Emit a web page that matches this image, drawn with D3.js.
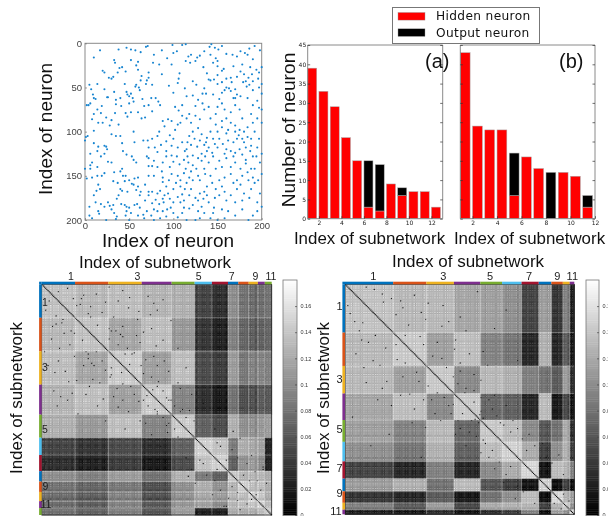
<!DOCTYPE html>
<html><head><meta charset="utf-8">
<script src="https://d3js.org/d3.v7.min.js"></script>
<style>html,body{margin:0;padding:0;background:#fff;overflow:hidden}svg{display:block}</style>
</head><body><svg id="c" width="608" height="516"></svg>
<script>
// ---------- data ----------
const connections=[[47,5],[52,7],[57,8],[63,10],[69,4],[71,3],[38,7],[17,8],[10,16],[78,13],[87,8],[99,2],[104,9],[110,2],[114,1],[120,13],[130,14],[135,9],[141,4],[143,1],[147,5],[151,7],[155,3],[160,12],[167,13],[172,15],[176,9],[181,11],[186,6],[184,13],[192,3],[198,8],[93,17],[77,22],[84,24],[100,11],[114,20],[119,22],[125,20],[127,16],[117,15],[142,13],[148,17],[150,26],[157,29],[134,27],[138,34],[146,41],[33,19],[34,22],[20,31],[22,33],[39,28],[42,27],[37,33],[46,32],[52,19],[58,25],[60,21],[60,30],[64,37],[72,39],[72,33],[70,42],[87,35],[98,24],[107,34],[106,40],[105,45],[122,43],[126,47],[135,51],[140,41],[142,42],[150,46],[155,44],[155,31],[165,39],[166,44],[172,38],[176,32],[180,35],[182,43],[185,39],[187,27],[189,35],[194,30],[197,33],[200,27],[200,46],[197,50],[190,53],[186,47],[183,49],[179,44],[176,60],[170,52],[163,51],[160,50],[158,53],[155,56],[165,54],[170,62],[152,63],[145,58],[137,57],[133,57],[128,64],[122,59],[115,60],[113,51],[100,56],[95,48],[76,47],[69,46],[63,42],[58,47],[61,50],[57,49],[62,53],[47,55],[48,58],[50,60],[52,57],[54,62],[30,40],[27,39],[32,38],[22,52],[14,46],[5,47],[7,52],[9,58],[10,62],[12,63],[2,70],[4,70],[6,68],[25,61],[26,61],[33,55],[35,64],[40,62],[35,69],[41,71],[50,68],[55,66],[65,63],[67,71],[75,62],[80,62],[83,66],[85,70],[76,77],[68,84],[64,85],[60,78],[52,78],[48,83],[46,79],[34,79],[30,87],[24,84],[19,71],[14,75],[10,80],[18,79],[8,86],[15,90],[20,90],[10,99],[3,105],[1,106],[0,110],[10,113],[15,117],[14,122],[22,116],[24,117],[25,120],[22,125],[30,103],[35,105],[40,105],[55,100],[42,113],[43,122],[47,126],[53,128],[55,132],[58,135],[30,135],[26,134],[14,140],[8,135],[6,138],[6,142],[0,142],[2,153],[8,152],[14,150],[19,150],[22,147],[33,146],[32,156],[37,158],[40,145],[42,142],[43,150],[46,150],[45,156],[50,155],[56,153],[60,152],[53,159],[55,160],[60,162],[58,166],[63,168],[62,172],[48,168],[42,167],[40,165],[38,172],[36,176],[41,182],[45,183],[47,185],[50,186],[56,183],[59,182],[68,178],[72,172],[72,168],[76,168],[82,170],[80,177],[76,181],[78,188],[82,190],[70,190],[66,194],[60,195],[52,192],[47,190],[46,195],[50,200],[36,196],[33,192],[30,188],[32,183],[22,185],[18,182],[15,190],[16,193],[12,180],[10,172],[5,185],[5,195],[8,198],[13,167],[15,160],[17,165],[26,180],[28,184],[24,200],[35,199],[67,198],[75,195],[78,200],[85,198],[88,190],[93,188],[97,186],[100,180],[108,180],[112,178],[105,174],[110,171],[113,165],[108,162],[100,165],[94,170],[88,176],[89,180],[90,172],[85,167],[92,162],[88,157],[88,152],[95,155],[98,148],[105,150],[112,147],[118,152],[122,155],[128,150],[126,142],[122,138],[117,135],[112,132],[107,137],[100,134],[98,127],[92,128],[88,135],[87,145],[82,140],[76,139],[72,139],[70,128],[72,130],[78,133],[72,118],[76,108],[71,110],[82,105],[79,118],[82,123],[86,115],[92,111],[100,108],[96,104],[102,98],[105,92],[108,90],[110,82],[102,72],[106,76],[110,70],[115,85],[120,90],[118,80],[125,82],[130,86],[135,75],[140,72],[133,68],[125,71],[128,96],[122,100],[118,105],[132,103],[138,107],[142,100],[148,92],[155,88],[160,85],[165,90],[170,93],[175,98],[170,100],[160,102],[152,108],[147,114],[140,118],[135,115],[130,110],[127,117],[120,115],[115,120],[110,112],[105,118],[98,116],[92,122],[116,128],[122,127],[132,125],[138,122],[132,133],[140,135],[145,128],[152,133],[160,130],[158,125],[165,122],[168,112],[172,108],[178,108],[180,112],[175,120],[182,118],[187,122],[190,128],[182,132],[178,126],[170,135],[165,140],[155,140],[148,142],[142,150],[136,148],[130,155],[138,162],[144,158],[152,155],[158,152],[165,148],[172,155],[178,150],[185,155],[190,152],[196,155],[200,148],[198,135],[200,125],[195,118],[197,108],[192,100],[188,108],[184,95],[178,85],[175,75],[170,70],[165,78],[158,75],[155,68],[150,72],[148,80],[142,85],[155,95],[162,98],[168,62],[184,62],[190,70],[195,65],[197,73],[200,75],[200,90],[195,85],[188,80],[190,90],[180,100],[145,108],[150,100],[125,175],[130,170],[135,168],[128,178],[122,183],[118,187],[110,192],[105,197],[115,200],[125,200],[130,198],[132,185],[140,180],[147,175],[152,172],[158,168],[165,172],[172,165],[180,170],[188,165],[192,158],[198,170],[195,180],[200,185],[195,190],[190,195],[185,200],[178,188],[170,195],[162,190],[155,188],[158,198],[150,200],[145,192],[142,198],[135,192],[170,180],[178,178],[186,175],[160,178],[148,165],[120,165],[115,158],[103,158],[96,140],[135,142],[188,142],[176,142],[182,136],[45,46],[72,70],[28,93],[38,92],[66,110],[56,112],[6,125],[18,128],[190,43],[196,40],[200,57],[172,58],[150,20],[145,22],[90,94],[88,88],[94,86],[98,88],[84,100],[113,122],[96,176],[116,112],[124,108],[137,112],[144,124],[150,118],[156,114],[162,110],[174,104],[184,106],[188,116],[194,128],[170,124],[168,128],[160,120],[128,130],[136,128],[120,145],[114,142],[104,128],[108,155],[134,176],[118,172],[112,186],[100,192],[92,196],[128,190],[138,172],[146,186],[155,162],[168,158],[176,160],[184,146],[192,142],[72,150],[78,150],[68,160],[84,182],[62,186],[160,40],[178,24],[168,26],[190,18],[150,36]];
const hiddenA=[39,33,29,21,15,3,2,9,6,7,7,3];
const outputA=[0,0,0,0,0,12,12,0,2,0,0,0];
const hiddenB=[43,24,23,23,6,16,13,0,12,11,3];
const outputB=[0,0,0,0,11,0,0,12,0,0,3];
const countTicks=[0,5,10,15,20,25,30,35,40,45];
const indexTicks=[2,4,6,8,10,12];
const scatterTicks=[0,50,100,150,200];
const barColors=["#ff0000","#000000"];
const legendLabels=["Hidden neuron","Output neuron"];
const stripColors=["#0072BD","#D95319","#EDB120","#7E2F8E","#77AC30","#4DBEEE","#A2142F"];
const sizesA=[29,29,29,26,20,15,14,9,9,8,6,6];
const sizesB=[42,29,24,23,19,17,15,11,10,6,4];
const blocksA=[
[.135,.128,.132,.125,.122,.045,.030,.098,.078,.072,.072,.078],
[.128,.135,.115,.132,.105,.035,.020,.088,.068,.062,.062,.068],
[.132,.115,.140,.110,.132,.050,.040,.108,.082,.088,.088,.088],
[.125,.132,.110,.140,.090,.030,.015,.078,.052,.052,.058,.058],
[.122,.105,.132,.090,.140,.065,.050,.122,.098,.098,.102,.108],
[.045,.035,.050,.030,.065,.145,.135,.085,.120,.115,.110,.020],
[.030,.020,.040,.015,.050,.135,.145,.065,.100,.105,.095,.020],
[.098,.088,.108,.078,.122,.085,.065,.140,.125,.125,.125,.120],
[.078,.068,.082,.052,.098,.120,.100,.125,.145,.130,.130,.120],
[.072,.062,.088,.052,.098,.115,.105,.125,.130,.145,.135,.120],
[.072,.062,.088,.058,.102,.110,.095,.125,.130,.135,.145,.130],
[.078,.068,.088,.058,.108,.020,.020,.120,.120,.120,.130,.145]];
const blocksB=[
[.135,.128,.128,.115,.110,.098,.045,.108,.035,.088,.020],
[.128,.140,.110,.132,.090,.080,.025,.122,.025,.062,.015],
[.128,.110,.140,.095,.128,.122,.088,.078,.062,.108,.030],
[.115,.132,.095,.140,.070,.065,.025,.130,.015,.048,.012],
[.110,.090,.128,.070,.140,.130,.095,.058,.078,.118,.030],
[.098,.080,.122,.065,.130,.145,.118,.042,.098,.122,.040],
[.045,.025,.088,.025,.095,.118,.150,.012,.130,.125,.090],
[.108,.122,.078,.130,.058,.042,.012,.145,.008,.042,.008],
[.035,.025,.062,.015,.078,.098,.130,.008,.150,.125,.110],
[.088,.062,.108,.048,.118,.122,.125,.042,.125,.145,.100],
[.020,.015,.030,.012,.030,.040,.090,.008,.110,.100,.145]];
const shadeA="5738462951736482519473826518394726518394572618364957261839475261849372615839472618539472614839572618493726518394726158394726185937264815937264815392746158392647159382647159384726158394721683729405618273";
const shadeB="3857291648375261948375629184736529184637259184736259183476259183746259187364529183746519283746591823746591827364519283746519273846512938475619283746591283746519283746519283475619283746519283746501928374";
const specksA=[[3,22],[12,34],[18,30],[8,47],[25,40],[15,55],[28,62],[5,70],[20,75],[10,92],[22,100],[35,48],[40,60],[45,70],[50,85],[38,95],[48,105],[60,72],[65,90],[70,100],[75,110],[66,52],[80,95],[88,100],[92,105],[97,62],[100,110],[105,115],[110,120],[115,125],[120,90],[95,130],[103,140],[125,150],[130,160],[140,155],[150,170],[155,178],[162,185],[170,180],[178,190],[13,105],[31,112],[55,118],[72,125],[85,118],[33,17],[42,28],[58,38],[68,43],[78,60],[83,30],[6,14],[9,36],[14,66],[19,42],[23,84],[27,12],[2,58],[11,76],[16,97],[24,52],[36,70],[41,88],[47,58],[53,99],[59,80],[64,40],[69,76],[74,55],[77,88],[82,44],[86,70],[91,96],[94,26],[98,108],[101,84],[106,66],[109,128],[112,100],[118,132],[122,108],[127,166],[133,172],[137,152],[143,165],[148,182],[152,160],[158,192],[165,175],[172,195],[182,186],[187,170],[192,160]];
const specksB=[[4,25],[12,40],[20,50],[9,60],[30,70],[18,85],[28,100],[6,115],[35,55],[45,65],[50,80],[56,95],[60,108],[72,88],[75,100],[78,112],[83,118],[90,105],[92,112],[96,130],[100,125],[105,140],[110,118],[113,117],[116,120],[120,135],[125,150],[130,160],[140,165],[150,175],[155,180],[165,190],[178,192],[188,195],[38,130],[22,140],[66,150],[15,33],[44,52],[62,76],[2,18],[8,32],[14,48],[24,66],[32,90],[16,72],[26,44],[36,84],[40,105],[48,96],[52,68],[58,120],[64,84],[68,100],[70,124],[80,94],[86,98],[94,104],[98,118],[102,112],[108,128],[114,132],[118,146],[122,138],[128,144],[134,154],[138,172],[144,158],[148,186],[160,170],[170,186],[182,190]];
const colorbarTicks=[0,.02,.04,.06,.08,.1,.12,.14,.16];
const subnetTicks=[1,3,5,7,9,11];

// ---------- drawing ----------
const svg=d3.select("#c");
const SANS="'Liberation Sans',Arial,sans-serif", DV="'DejaVu Sans',sans-serif";
const root=svg.append("g").style("filter","blur(0.35px)");
function label(x,y,t,size,o={}){
  return root.append("text").attr("x",x).attr("y",y).text(t)
   .attr("font-family",o.font||SANS).attr("font-size",size).attr("fill",o.fill||"#111")
   .attr("text-anchor",o.anchor||"start")
   .attr("transform",o.rot?`rotate(${o.rot} ${x} ${y})`:null);
}
function styleAxis(g,col,size,font,tc){
  g.select(".domain").remove();
  g.selectAll("line").attr("stroke",col).attr("stroke-width",.7);
  g.selectAll("text").attr("font-size",size).attr("font-family",font).attr("fill",tc);
  g.attr("font-family",null).attr("font-size",null);
}
// scatter
{
 const x=d3.scaleLinear().domain([0,200]).range([85,261.7]);
 const y=d3.scaleLinear().domain([0,200]).range([43.3,220]);
 root.append("rect").attr("x",85).attr("y",43.3).attr("width",176.7).attr("height",176.7).attr("fill","#fff").attr("stroke","#8a8a8a").attr("stroke-width",1);
 root.append("g").selectAll("circle").data(connections).join("circle")
  .attr("cx",d=>x(d[0])).attr("cy",d=>y(d[1])).attr("r",1.05).attr("fill","#1684d0");
 const ax=root.append("g").attr("transform","translate(0,220)").call(d3.axisBottom(x).tickValues(scatterTicks).tickSize(-2).tickPadding(2));
 styleAxis(ax,"#777",9.5,SANS,"#444");
 const ay=root.append("g").attr("transform","translate(85,0)").call(d3.axisLeft(y).tickValues(scatterTicks).tickSize(-2).tickPadding(3));
 styleAxis(ay,"#777",9.5,SANS,"#444");
 label(168,247,"Index of neuron",19,{anchor:"middle"});
 label(52,129,"Index of neuron",19,{anchor:"middle",rot:-90});
}
// bars
function bars(hidden,output,left,right,dom,showY){
 const x=d3.scaleLinear().domain(dom).range([left,right]);
 const y=d3.scaleLinear().domain([0,45]).range([218.7,45]);
 const idx=d3.range(hidden.length);
 const w=x(1.8)-x(1);
 const grp=root.append("g");
 grp.selectAll(".h").data(idx).join("rect").attr("x",i=>x(i+1)).attr("width",w)
  .attr("y",i=>y(hidden[i])).attr("height",i=>y(0)-y(hidden[i])).attr("fill",barColors[0]).attr("stroke","#aaa").attr("stroke-width",.5);
 grp.selectAll(".o").data(idx.filter(i=>output[i]>0)).join("rect").attr("x",i=>x(i+1)).attr("width",w)
  .attr("y",i=>y(hidden[i]+output[i])).attr("height",i=>y(0)-y(output[i])).attr("fill",barColors[1]).attr("stroke","#aaa").attr("stroke-width",.5);
 const s=root.append("g").attr("fill","none").attr("stroke","#8a8a8a").attr("stroke-width",1);
 s.append("line").attr("x1",left).attr("x2",left).attr("y1",45).attr("y2",218.7);
 s.append("line").attr("x1",right).attr("x2",right).attr("y1",45).attr("y2",218.7);
 s.append("line").attr("x1",left).attr("x2",right).attr("y1",45).attr("y2",45);
 s.append("line").attr("x1",left).attr("x2",right).attr("y1",218.7).attr("y2",218.7);
 const ax=root.append("g").attr("transform","translate(0,218.7)").call(d3.axisBottom(x).tickValues(indexTicks).tickSize(-2.5).tickPadding(2));
 styleAxis(ax,"#333",6,DV,"#222");
 const ay=root.append("g").attr("transform",`translate(${left},0)`).call(d3.axisLeft(y).tickValues(countTicks).tickSize(-2.5).tickPadding(showY?1.5:2).tickFormat(showY?null:""));
 styleAxis(ay,"#333",6,DV,"#222");
 const ay2=root.append("g").attr("transform",`translate(${right},0)`).call(d3.axisRight(y).tickValues(countTicks).tickSize(-2.5).tickFormat(""));
 styleAxis(ay2,"#333",6,DV,"#222");
}
bars(hiddenA,outputA,307.7,442.7,[1,13],true);
bars(hiddenB,outputB,460.3,595,[1,12],false);
label(295,130,"Number of neuron",19.2,{anchor:"middle",rot:-90});
label(369.5,244,"Index of subnetwork",16.9,{anchor:"middle"});
label(529.5,244,"Index of subnetwork",16.9,{anchor:"middle"});
label(425,68,"(a)",20);
label(559,68,"(b)",20);
// legend
root.append("rect").attr("x",392.5).attr("y",7.5).attr("width",147).attr("height",36).attr("fill","#fff").attr("stroke","#777").attr("stroke-width",1);
legendLabels.forEach((t,i)=>{
 root.append("rect").attr("x",398).attr("y",12.5+i*16.3).attr("width",27).attr("height",7.6).attr("fill",barColors[i]).attr("stroke","#999").attr("stroke-width",.4);
 label(436,20.3+i*16.3,t,12.2,{font:DV}).attr("letter-spacing",.35);
});
// heatmaps
function heat(sizes,blocks,shade,specks,box,o){
 const N=d3.sum(sizes);
 const edges=d3.cumsum(sizes);
 const owner=[];sizes.forEach((s,k)=>{for(let n=0;n<s;n++)owner.push(k);});
 const pos=d3.scaleLinear().domain([0,N]).range([box.x0,box.x1]);
 const posY=d3.scaleLinear().domain([0,N]).range([box.y0,box.y1]);
 const gray=d3.scaleLinear().domain([0,.18]).range(["#000","#fff"]).clamp(true);
 const speck=new Set();specks.forEach(([a,b])=>{speck.add(a+","+b);speck.add(b+","+a);});
 const val=(i,j)=>{
  if(i===j||speck.has(i+","+j))return 0.012;
  const a=+shade[i]-4.5,b=+shade[j]-4.5;
  return blocks[owner[i]][owner[j]]+(a+b)*0.0016+a*b*0.0009;
 };
 const cells=[];
 d3.range(N).forEach(i=>d3.range(N).forEach(j=>cells.push([i,j])));
 const cw=(box.x1-box.x0)/N+.4, ch=(box.y1-box.y0)/N+.4;
 root.append("g").selectAll("rect").data(cells).join("rect")
  .attr("x",d=>pos(d[1])).attr("y",d=>posY(d[0])).attr("width",cw).attr("height",ch).attr("fill",d=>gray(val(d[0],d[1])));
 // light separators between subnetworks
 const sep=root.append("g").attr("stroke","#fff").attr("stroke-opacity",.42).attr("stroke-width",.8);
 edges.slice(0,-1).forEach(e=>{
  sep.append("line").attr("x1",pos(e)).attr("x2",pos(e)).attr("y1",box.y0).attr("y2",box.y1);
  sep.append("line").attr("y1",posY(e)).attr("y2",posY(e)).attr("x1",box.x0).attr("x2",box.x1);
 });
 root.append("rect").attr("x",box.x0).attr("y",box.y0).attr("width",box.x1-box.x0).attr("height",box.y1-box.y0).attr("fill","none").attr("stroke","#222").attr("stroke-width",.7);
 // colour strips
 sizes.forEach((s,k)=>{
  const a=k?edges[k-1]:0,b=edges[k],c=stripColors[k%7];
  root.append("rect").attr("x",pos(a)).attr("width",pos(b)-pos(a)).attr("y",box.y0-2.6).attr("height",2.6).attr("fill",c);
  root.append("rect").attr("y",posY(a)).attr("height",posY(b)-posY(a)).attr("x",box.x0-2.6).attr("width",2.6).attr("fill",c);
 });
 root.append("rect").attr("x",box.x0-2.6).attr("y",box.y0-2.6).attr("width",2.6).attr("height",2.6).attr("fill",stripColors[0]);
 subnetTicks.forEach((t,i)=>{
  label(o.topX[i],280,t,o.tickSize,{anchor:"middle",fill:"#222"});
  label(o.leftX[i],o.leftY[i],t,o.tickSize,{anchor:"middle",fill:"#222"});
 });
 label(o.titleX,o.titleY,"Index of subnetwork",17,{anchor:"middle"});
 label(o.yTitleX,398,"Index of subnetwork",17,{anchor:"middle",rot:-90});
 // colour bar
 const cy=d3.scaleLinear().domain([0,.18]).range([515,280]);
 const steps=d3.range(0,.18,.18/128);
 root.append("g").selectAll("rect").data(steps).join("rect").attr("x",o.barX).attr("width",o.barW)
  .attr("y",d=>cy(d+.18/128)).attr("height",cy(0)-cy(.18/128)+.4).attr("fill",d=>gray(d));
 root.append("rect").attr("x",o.barX).attr("y",280).attr("width",o.barW).attr("height",236).attr("fill","none").attr("stroke","#777").attr("stroke-width",.8);
 const ac=root.append("g").attr("transform",`translate(${o.barX+o.barW},0)`).call(d3.axisRight(cy).tickValues(colorbarTicks).tickSize(-2).tickPadding(3.5).tickFormat(d=>d===0?"0":String(d)));
 styleAxis(ac,"#444",5.5,SANS,"#333");
}
heat(sizesA,blocksA,shadeA,specksA,{x0:41.7,x1:271.7,y0:284.3,y1:515},{
 topX:[71,137.3,198.7,231.7,255.3,271],leftX:[45,45,45,44.5,45.5,46],leftY:[306,371,433,469,490,508],
 tickSize:10.5,titleX:155,titleY:267.5,yTitleX:22,barX:283,barW:14});
heat(sizesB,blocksB,shadeB,specksB,{x0:345,x1:574.3,y0:284.3,y1:514.3},{
 topX:[373.3,443.3,490,529,557.3,572.3],leftX:[339.5,339.5,339.5,339.5,339.5,336],leftY:[310,383,433,472,497,514.5],
 tickSize:11,titleX:468,titleY:266.7,yTitleX:329,barX:586,barW:13});
</script></body></html>
